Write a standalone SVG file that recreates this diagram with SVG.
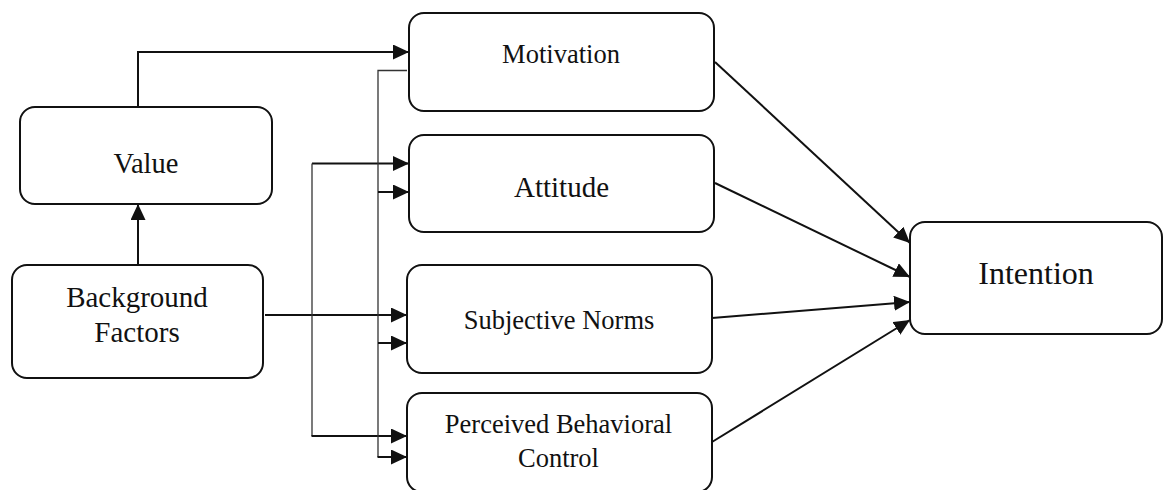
<svg xmlns="http://www.w3.org/2000/svg" width="1165" height="490" viewBox="0 0 1165 490">
  <style>
    .box { fill: #ffffff; stroke: #111111; stroke-width: 2; }
    .lbl { font-family: 'Liberation Serif', 'Times New Roman', serif; fill: #111111; text-anchor: middle; }
    .con { fill: none; stroke: #111111; stroke-width: 2; }
    .thin { fill: none; stroke: #333333; stroke-width: 1.3; }
  </style>
  <defs>
    <marker id="arr" markerUnits="userSpaceOnUse" markerWidth="16" markerHeight="15" refX="16" refY="7.5" orient="auto">
      <path d="M0,0 L16,7.5 L0,15 Z" fill="#111111"/>
    </marker>
  </defs>
  <rect width="1165" height="490" fill="#ffffff"/>

  <g id="connectors">
    <path class="con" d="M138,107 V52 H409" marker-end="url(#arr)"/>
    <path class="con" d="M138,265 V204" marker-end="url(#arr)"/>
    <path class="con" d="M265,315 H407" marker-end="url(#arr)"/>
    <path class="con" d="M312,163.5 H409" marker-end="url(#arr)"/>
    <path class="thin" d="M312,163.5 V436"/>
    <path class="con" d="M311.5,436 H407" marker-end="url(#arr)"/>
    <path class="thin" d="M407,70.5 H378 V457"/>
    <path class="con" d="M377.5,457 H407" marker-end="url(#arr)"/>
    <path class="con" d="M378,192 H409" marker-end="url(#arr)"/>
    <path class="con" d="M378,343 H407" marker-end="url(#arr)"/>
    <path class="con" d="M715,62 L910,243" marker-end="url(#arr)"/>
    <path class="con" d="M715,183 L910,277" marker-end="url(#arr)"/>
    <path class="con" d="M712,318 L910,302" marker-end="url(#arr)"/>
    <path class="con" d="M712,442 L910,320" marker-end="url(#arr)"/>
  </g>

  <g id="value">
    <rect class="box" x="20" y="107" width="252" height="97" rx="15"/>
    <text class="lbl" x="146" y="173" font-size="28.5">Value</text>
  </g>
  <g id="background-factors">
    <rect class="box" x="12" y="265" width="251" height="113" rx="15"/>
    <text class="lbl" x="137" y="307" font-size="29">Background</text>
    <text class="lbl" x="137" y="342" font-size="29">Factors</text>
  </g>
  <g id="motivation">
    <rect class="box" x="409" y="13" width="305" height="98" rx="15"/>
    <text class="lbl" x="561" y="63" font-size="26.5">Motivation</text>
  </g>
  <g id="attitude">
    <rect class="box" x="409" y="135" width="305" height="97" rx="15"/>
    <text class="lbl" x="561.5" y="197" font-size="29">Attitude</text>
  </g>
  <g id="subjective-norms">
    <rect class="box" x="407" y="265" width="305" height="108" rx="15"/>
    <text class="lbl" x="559" y="329" font-size="26.5">Subjective Norms</text>
  </g>
  <g id="perceived-behavioral-control">
    <rect class="box" x="407" y="393" width="305" height="99" rx="15"/>
    <text class="lbl" x="558.5" y="433" font-size="26.5">Perceived Behavioral</text>
    <text class="lbl" x="558.5" y="467" font-size="26.5">Control</text>
  </g>
  <g id="intention">
    <rect class="box" x="910" y="222" width="252" height="112" rx="15"/>
    <text class="lbl" x="1036" y="284" font-size="32">Intention</text>
  </g>
</svg>
